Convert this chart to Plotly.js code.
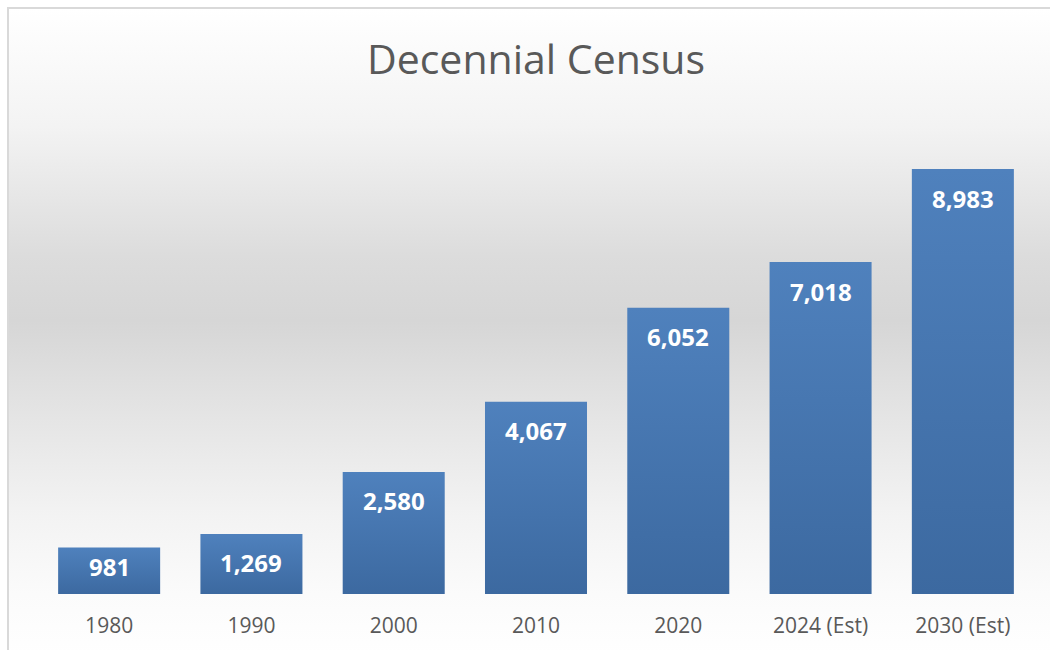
<!DOCTYPE html>
<html>
<head>
<meta charset="utf-8">
<script src="https://cdn.plot.ly/plotly-3.0.1.min.js"></script>
<style>
  html, body { margin: 0; padding: 0; width: 1050px; height: 650px; overflow: hidden; background: #ffffff; }
  #bg {
    position: absolute; left: 7px; top: 7px; width: 1050px; height: 650px;
    border-left: 2px solid #d9d9d9; border-top: 2px solid #d9d9d9;
    background: linear-gradient(to bottom, #ffffff 0%, #f3f3f3 18%, #dcdcdc 38%, #d6d6d6 48%, #e4e4e4 62%, #f3f3f3 78%, #fbfbfb 90%, #ffffff 100%);
  }
  #chart { position: absolute; left: 0; top: 0; width: 1050px; height: 650px; }
</style>
</head>
<body>
<div id="bg"></div>
<div id="chart"></div>
<script>
const categories = ["1980", "1990", "2000", "2010", "2020", "2024 (Est)", "2030 (Est)"];
const populations = [981, 1269, 2580, 4067, 6052, 7018, 8983];
const chartTitle = "Decennial Census";

const fmt = v => v.toLocaleString("en-US");

const Y_MAX = 10000;
const PLOT_H = 650 - 121 - 56;

const trace = {
  type: "bar",
  x: categories,
  y: populations,
  marker: { color: "#4676b0", line: { width: 0 } },
  hoverinfo: "x+y"
};

// category axis: annotations are placed by category index
const annotations = categories.map((c, i) => {
  const barPx = populations[i] / Y_MAX * PLOT_H;
  return {
    x: i, y: populations[i], xref: "x", yref: "y",
    text: fmt(populations[i]), showarrow: false,
    yanchor: "middle", yshift: -Math.min(29, barPx - 28),
    font: { family: "Open Sans", size: 24, color: "#ffffff", weight: "bold" }
  };
});

const layout = {
  width: 1050, height: 650,
  margin: { l: 38, r: 16, t: 121, b: 56 },
  paper_bgcolor: "rgba(0,0,0,0)",
  plot_bgcolor: "rgba(0,0,0,0)",
  showlegend: false,
  bargap: 0.283,
  title: {
    text: chartTitle,
    font: { family: "Open Sans", size: 41, color: "#595959" },
    x: 0.5, xanchor: "center", xref: "paper",
    y: 0.908, yanchor: "middle", yref: "container"
  },
  xaxis: {
    type: "category",
    range: [-0.5, categories.length - 0.5],
    showgrid: false, zeroline: false, showline: false,
    ticks: "",
    ticklabelstandoff: 17,
    tickfont: { family: "Open Sans", size: 21, color: "#595959" }
  },
  yaxis: {
    range: [0, Y_MAX], visible: false, showgrid: false, zeroline: false
  },
  annotations: annotations
};

Plotly.newPlot("chart", [trace], layout, { displayModeBar: false, staticPlot: true }).then(gd => {
  const svg = gd.querySelector("svg.main-svg");
  const ns = "http://www.w3.org/2000/svg";
  let defs = svg.querySelector("defs");
  const lg = document.createElementNS(ns, "linearGradient");
  lg.setAttribute("id", "barGrad");
  lg.setAttribute("x1", "0"); lg.setAttribute("y1", "0");
  lg.setAttribute("x2", "0"); lg.setAttribute("y2", "1");
  const s1 = document.createElementNS(ns, "stop");
  s1.setAttribute("offset", "0"); s1.setAttribute("stop-color", "#4f81bd");
  const s2 = document.createElementNS(ns, "stop");
  s2.setAttribute("offset", "1"); s2.setAttribute("stop-color", "#3c69a0");
  lg.appendChild(s1); lg.appendChild(s2);
  defs.appendChild(lg);
  gd.querySelectorAll(".barlayer .point path").forEach(p => { p.style.fill = "url(#barGrad)"; });
});
</script>
</body>
</html>
